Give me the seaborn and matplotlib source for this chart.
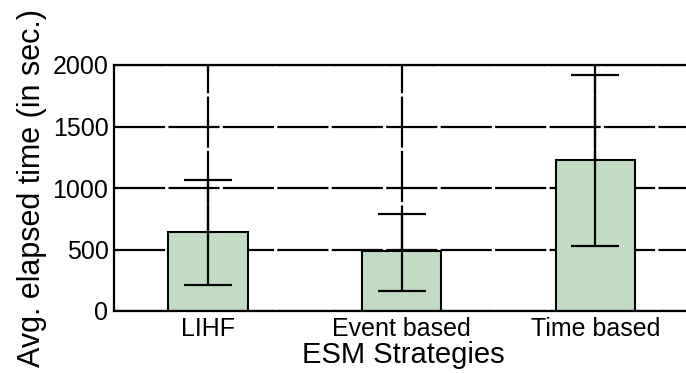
import matplotlib
matplotlib.use("Agg")
import matplotlib.pyplot as plt
import pandas as pd
import seaborn as sns

# --- Data ---
strategies = ["LIHF", "Event based", "Time based"]
avg_time = [640, 490, 1230]          # bar heights (sec.)
err_lower = [212, 163, 527]          # lower cap of error bar
err_upper = [1062, 786, 1920]        # upper cap of error bar
y_ticks = [0, 500, 1000, 1500, 2000]

BAR_COLOR = "#c2dcc4"

sns.set_style("white")
plt.rcParams["font.family"] = ["Liberation Sans", "DejaVu Sans"]
plt.rcParams["text.color"] = "black"
plt.rcParams["axes.labelcolor"] = "black"

df = pd.DataFrame({"strategy": strategies, "time": avg_time})

fig = plt.figure(figsize=(6.86, 3.73), dpi=100)
ax = fig.add_axes([114 / 686, 1 - 311 / 373, 578 / 686, 246 / 373])

sns.barplot(
    data=df, x="strategy", y="time", order=strategies,
    color=BAR_COLOR, width=0.41, edgecolor="black", linewidth=1.5,
    saturation=1, errorbar=None, ax=ax,
)

# asymmetric error bars from the lower/upper caps
lo = [m - l for m, l in zip(avg_time, err_lower)]
hi = [u - m for m, u in zip(avg_time, err_upper)]
ax.errorbar(range(len(strategies)), avg_time, yerr=[lo, hi], fmt="none",
            ecolor="black", elinewidth=1.6, capsize=17.5, capthick=1.6, zorder=5)

# Matlab-like dashed grid drawn under the bars
ax.set_axisbelow(True)
ax.grid(True, color="black", linewidth=1.6, linestyle=(0, (23, 1.5)))

ax.set_ylim(0, 2000)
ax.set_xlim(-0.486, 2.5)
ax.set_yticks(y_ticks)
ax.tick_params(axis="both", length=0, labelsize=18, colors="black")
ax.tick_params(axis="x", pad=4.5)
ax.tick_params(axis="y", pad=4)

for side in ["left", "bottom", "top", "right"]:
    ax.spines[side].set_visible(True)
    ax.spines[side].set_color("black")
    ax.spines[side].set_linewidth(1.6)

ax.set_xlabel("ESM Strategies", fontsize=21, labelpad=0, color="black")
ax.set_ylabel("Avg. elapsed time (in sec.)", fontsize=22, labelpad=4, color="black")

fig.savefig("out.png", dpi=100)
